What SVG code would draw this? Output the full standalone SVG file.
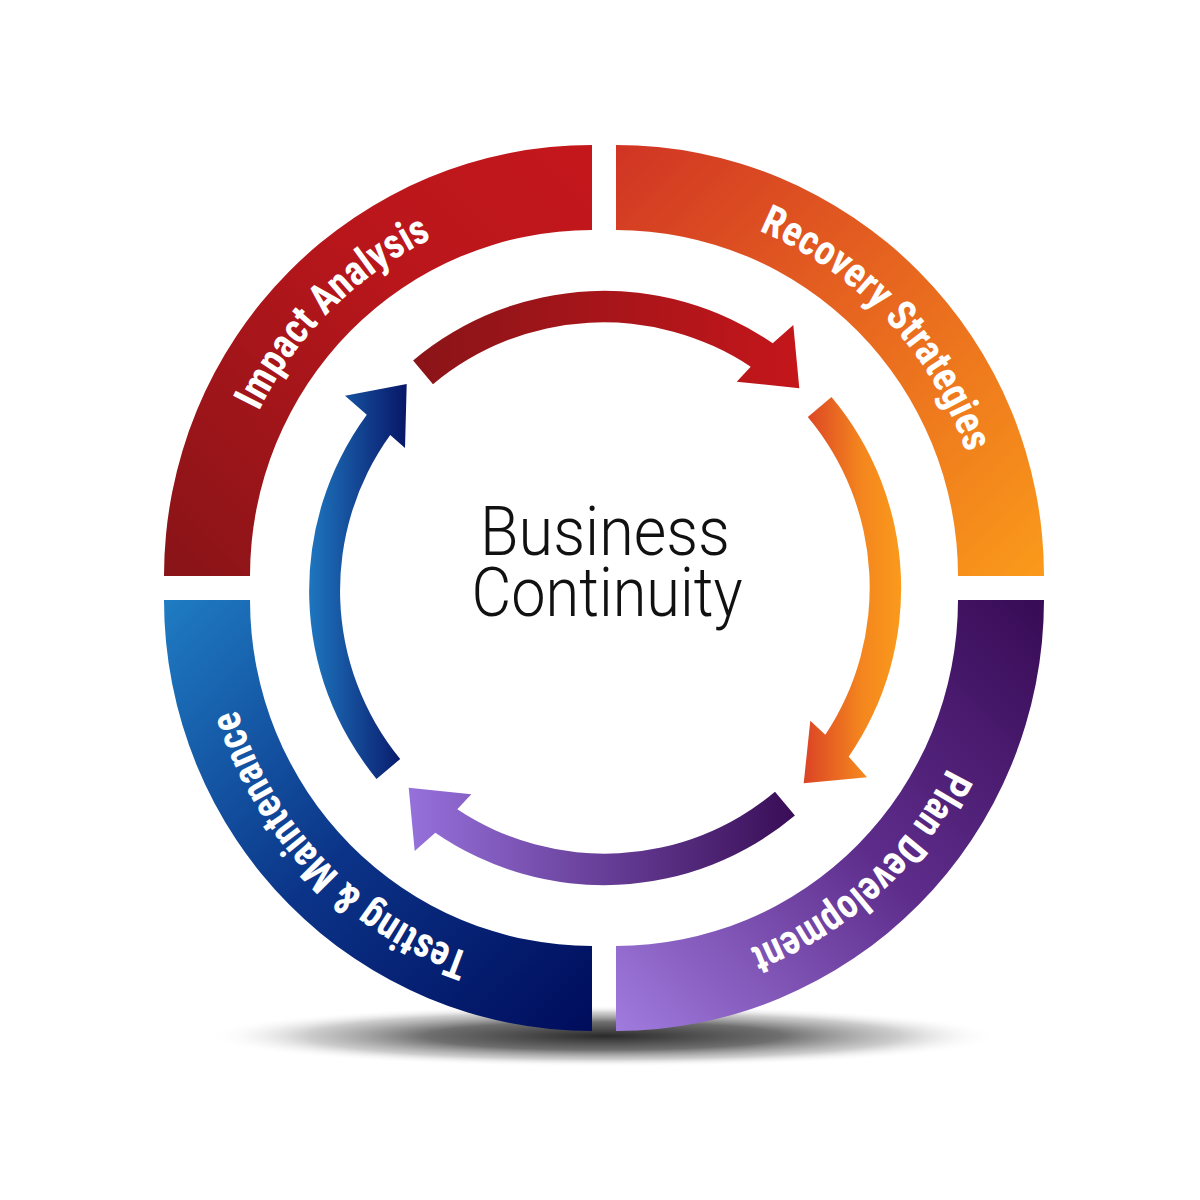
<svg xmlns="http://www.w3.org/2000/svg" width="1200" height="1200" viewBox="0 0 1200 1200">
<style>
.lbl{fill:#fff;font-family:"Roboto Condensed","DejaVu Sans Condensed","Liberation Sans Narrow",Roboto,"Liberation Sans",sans-serif;font-weight:700;font-size:42px;}
.ctr{fill:#111;font-family:Roboto,"Liberation Sans",sans-serif;font-weight:300;font-size:69px;}
</style>
<defs>
<linearGradient id="gTL" x1="0" y1="1" x2="1" y2="0">
<stop offset="0" stop-color="#881418"/><stop offset="0.6" stop-color="#B8161B"/><stop offset="1" stop-color="#C4171C"/>
</linearGradient>
<linearGradient id="gTR" x1="0" y1="0" x2="1" y2="1">
<stop offset="0" stop-color="#D03424"/><stop offset="0.5" stop-color="#E8681F"/><stop offset="1" stop-color="#FA9A1A"/>
</linearGradient>
<linearGradient id="gBR" x1="1" y1="0" x2="0" y2="1">
<stop offset="0" stop-color="#380B55"/><stop offset="0.5" stop-color="#5E2D8C"/><stop offset="1" stop-color="#A07BDE"/>
</linearGradient>
<linearGradient id="gBL" x1="0" y1="0" x2="1" y2="1">
<stop offset="0" stop-color="#1F7CC3"/><stop offset="0.5" stop-color="#0B3488"/><stop offset="1" stop-color="#000C5C"/>
</linearGradient>
<linearGradient id="aR" x1="0" y1="0" x2="1" y2="0">
<stop offset="0" stop-color="#8A1418"/><stop offset="1" stop-color="#C4161B"/>
</linearGradient>
<linearGradient id="aO" x1="0" y1="0" x2="1" y2="0">
<stop offset="0" stop-color="#DB4325"/><stop offset="0.6" stop-color="#F4861E"/><stop offset="1" stop-color="#FA9A1B"/>
</linearGradient>
<linearGradient id="aP" x1="0" y1="0" x2="1" y2="0">
<stop offset="0" stop-color="#9671DB"/><stop offset="1" stop-color="#390D56"/>
</linearGradient>
<linearGradient id="aB" x1="0" y1="0" x2="1" y2="0">
<stop offset="0" stop-color="#1E76BF"/><stop offset="1" stop-color="#081668"/>
</linearGradient>
<radialGradient id="sh" cx="0.5" cy="0.5" r="0.5">
<stop offset="0" stop-color="#2a2a2a" stop-opacity="1"/>
<stop offset="0.45" stop-color="#555555" stop-opacity="0.85"/>
<stop offset="0.75" stop-color="#999999" stop-opacity="0.5"/>
<stop offset="1" stop-color="#ffffff" stop-opacity="0"/>
</radialGradient>
<path id="tpTL" d="M 221,576 A 371 374 0 0 1 592,202"/>
<path id="tpTR" d="M 616,202 A 371 374 0 0 1 987,576"/>
<path id="tpBR" d="M 987,600 A 371 374 0 0 1 616,974"/>
<path id="tpBL" d="M 592,974 A 371 374 0 0 1 221,600"/>
</defs>
<rect width="1200" height="1200" fill="#fff"/>
<g id="shadow">
<ellipse cx="604" cy="1036" rx="395" ry="31" fill="url(#sh)"/>
</g>
<g id="node-impact-analysis">
<path d="M 164,576 A 428 431 0 0 1 592,145 L 592,230 A 342 346 0 0 0 250,576 Z" fill="url(#gTL)"/>
<text class="lbl"><textPath href="#tpTL" startOffset="50.4%" text-anchor="middle" textLength="249" lengthAdjust="spacingAndGlyphs">Impact Analysis</textPath></text>
</g>
<g id="node-recovery-strategies">
<path d="M 616,145 A 428 431 0 0 1 1044,576 L 958,576 A 342 346 0 0 0 616,230 Z" fill="url(#gTR)"/>
<text class="lbl"><textPath href="#tpTR" startOffset="51.8%" text-anchor="middle" textLength="313" lengthAdjust="spacingAndGlyphs">Recovery Strategies</textPath></text>
</g>
<g id="node-plan-development">
<path d="M 1044,600 A 428 431 0 0 1 616,1031 L 616,946 A 342 346 0 0 0 958,600 Z" fill="url(#gBR)"/>
<text class="lbl"><textPath href="#tpBR" startOffset="53.2%" text-anchor="middle" textLength="274" lengthAdjust="spacingAndGlyphs">Plan Development</textPath></text>
</g>
<g id="node-testing-maintenance">
<path d="M 592,1031 A 428 431 0 0 1 164,600 L 250,600 A 342 346 0 0 0 592,946 Z" fill="url(#gBL)"/>
<text class="lbl"><textPath href="#tpBL" startOffset="51.1%" text-anchor="middle" textLength="350" lengthAdjust="spacingAndGlyphs">Testing &amp; Maintenance</textPath></text>
</g>
<g id="connectors">
<path d="M 413.1,360.5 A 297 297 0 0 1 772.7,343.3 L 793.3,325 L 799.3,388.3 L 736.7,381.7 L 750.7,366.7 A 266 266 0 0 0 433,384.2 Z" fill="url(#aR)"/>
<path d="M 831.5,397.1 A 297 297 0 0 1 848.7,756.7 L 867,777.3 L 803.7,783.3 L 810.3,720.7 L 825.3,734.7 A 266 266 0 0 0 807.8,417 Z" fill="url(#aO)"/>
<path d="M 794.9,815.5 A 297 297 0 0 1 435.3,832.7 L 414.7,851 L 408.7,787.7 L 471.3,794.3 L 457.3,809.3 A 266 266 0 0 0 775,791.8 Z" fill="url(#aP)"/>
<path d="M 376.5,778.9 A 297 297 0 0 1 366.8,414.7 L 345,395.7 L 406.7,384 L 405,448 L 390.2,435.1 A 266 266 0 0 0 400.2,759 Z" fill="url(#aB)"/>
</g>
<g id="center-label">
<text class="ctr" x="605" y="555" text-anchor="middle" textLength="250" lengthAdjust="spacingAndGlyphs">Business</text>
<text class="ctr" x="607" y="616" text-anchor="middle" textLength="271" lengthAdjust="spacingAndGlyphs">Continuity</text>
</g>
</svg>
